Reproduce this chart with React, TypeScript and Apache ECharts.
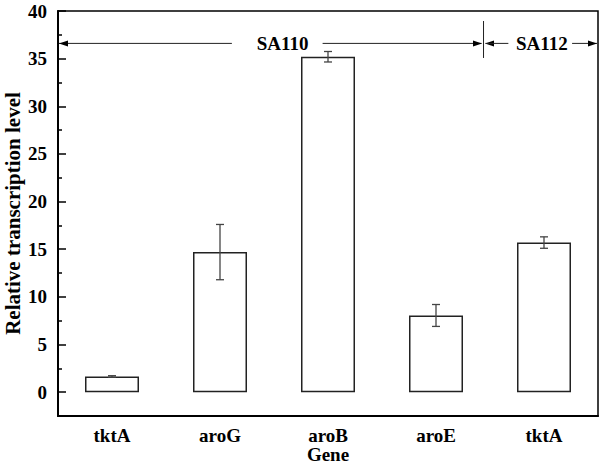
import React, { useEffect, useRef } from "react";
import * as echarts from "echarts";

const categories = ["tktA", "aroG", "aroB", "aroE", "tktA"];
const values = [1.65, 14.7, 35.2, 8.05, 15.7];
const errors = [0.08, 2.9, 0.55, 1.15, 0.6];
const yTicks = [0, 5, 10, 15, 20, 25, 30, 35, 40];
const yMinorTicks = [2.5, 7.5, 12.5, 17.5, 22.5, 27.5, 32.5, 37.5];
const groupLabels = ["SA110", "SA112"];

const FONT = "'Liberation Serif', 'Times New Roman', serif";

export default function App() {
  const ref = useRef<HTMLDivElement>(null);
  useEffect(() => {
    if (!ref.current) return;
    const chart = echarts.init(ref.current, null, { renderer: "svg" });
    const labelStyle = { fontFamily: FONT, fontWeight: "bold" as const, fontSize: 19, lineHeight: 19, color: "#000" };
    chart.setOption({
      animation: false,
      grid: {
        left: 58, right: 2, top: 11, bottom: 51,
        show: true, borderColor: "#000", borderWidth: 1.5,
        outerBoundsMode: "none",
      },
      xAxis: [
        {
          type: "category",
          data: categories,
          position: "bottom",
          axisLine: { onZero: false, lineStyle: { color: "#000", width: 2 } },
          axisTick: { inside: true, length: 4, lineStyle: { color: "#000", width: 1.5 } },
          axisLabel: { ...labelStyle, margin: 10 },
          name: "Gene",
          nameLocation: "middle",
          nameGap: 29,
          nameMoveOverlap: false,
          nameTextStyle: { ...labelStyle },
        },
        {
          type: "category",
          data: categories,
          position: "bottom",
          axisLine: { show: false, onZero: false },
          axisTick: { inside: true, length: 8, alignWithLabel: true, lineStyle: { color: "#000", width: 1.5 } },
          axisLabel: { show: false },
        },
      ],
      yAxis: [
        {
          type: "value",
          min: -2.5,
          max: 40,
          axisLine: { show: true, lineStyle: { color: "#000", width: 2 } },
          axisTick: { show: true, inside: true, length: 8, customValues: yTicks, lineStyle: { color: "#000", width: 1.5 } },
          axisLabel: { ...labelStyle, margin: 11, customValues: yTicks },
          splitLine: { show: false },
          name: "Relative transcription level",
          nameLocation: "middle",
          nameGap: 35,
          nameMoveOverlap: false,
          nameTextStyle: { ...labelStyle, fontSize: 21, lineHeight: 21 },
        },
        {
          type: "value",
          min: -2.5,
          max: 40,
          position: "left",
          axisLine: { show: false },
          axisTick: { show: true, inside: true, length: 4, customValues: yMinorTicks, lineStyle: { color: "#000", width: 1.5 } },
          axisLabel: { show: false, customValues: yMinorTicks },
          splitLine: { show: false },
        },
      ],
      series: [
        {
          type: "bar",
          data: values,
          barWidth: "50%",
          itemStyle: { color: "#fff", borderColor: "#222", borderWidth: 1.5 },
        },
        {
          type: "custom",
          data: values.map((v, i) => [i, v - errors[i], v + errors[i]]),
          encode: { x: 0, y: [1, 2] },
          z: 5,
          renderItem: (params: any, api: any) => {
            const i = api.value(0);
            const lo = api.coord([i, api.value(1)]);
            const hi = api.coord([i, api.value(2)]);
            const hw = 4;
            const st = { stroke: "#444", lineWidth: 1.3 };
            return {
              type: "group",
              children: [
                { type: "line", shape: { x1: hi[0], y1: hi[1], x2: lo[0], y2: lo[1] }, style: st },
                { type: "line", shape: { x1: hi[0] - hw, y1: hi[1], x2: hi[0] + hw, y2: hi[1] }, style: st },
                { type: "line", shape: { x1: lo[0] - hw, y1: lo[1], x2: lo[0] + hw, y2: lo[1] }, style: st },
              ],
            };
          },
        },
      ],
    });

    // Annotation (group brackets) positioned in category units
    const p0 = chart.convertToPixel({ xAxisIndex: 0 }, 0) as number;
    const p1 = chart.convertToPixel({ xAxisIndex: 0 }, 1) as number;
    const step = p1 - p0;
    const X = (c: number) => p0 + c * step;
    const Y = (v: number) => chart.convertToPixel({ yAxisIndex: 0 }, v) as number;
    const ay = Y(36.6);
    const divX = X(3.44);
    const left = X(-0.5);
    const right = X(4.5);
    const ah = 9, aw = 3;
    const lineStyle = { stroke: "#222", lineWidth: 1 };
    const arrow = (tipX: number, dir: number) => ({
      type: "polygon",
      shape: { points: [[tipX, ay], [tipX - dir * ah, ay - aw], [tipX - dir * ah, ay + aw]] },
      style: { fill: "#000" },
    });
    const textStyle = { fontFamily: FONT, fontWeight: "bold", fontSize: 19, fill: "#000", align: "center", verticalAlign: "middle" };
    chart.setOption({
      graphic: [
        { type: "line", shape: { x1: left + 1, y1: ay, x2: X(1.11), y2: ay }, style: lineStyle },
        arrow(left + 1, -1),
        { type: "text", x: X(1.58), y: ay, style: { ...textStyle, text: groupLabels[0] } },
        { type: "line", shape: { x1: X(1.95), y1: ay, x2: divX - 2, y2: ay }, style: lineStyle },
        arrow(divX - 1.5, 1),
        { type: "line", shape: { x1: divX, y1: Y(38.95), x2: divX, y2: Y(35.07) }, style: lineStyle },
        arrow(divX + 1.5, -1),
        { type: "line", shape: { x1: divX + 2, y1: ay, x2: X(3.67), y2: ay }, style: lineStyle },
        { type: "text", x: X(3.98), y: ay, style: { ...textStyle, text: groupLabels[1] } },
        { type: "line", shape: { x1: X(4.26), y1: ay, x2: right - 1, y2: ay }, style: lineStyle },
        arrow(right - 1, 1),
      ],
    });
    return () => chart.dispose();
  }, []);
  return <div ref={ref} style={{ position: "fixed", left: 0, top: 0, width: 600, height: 467, background: "#fff" }} />;
}
